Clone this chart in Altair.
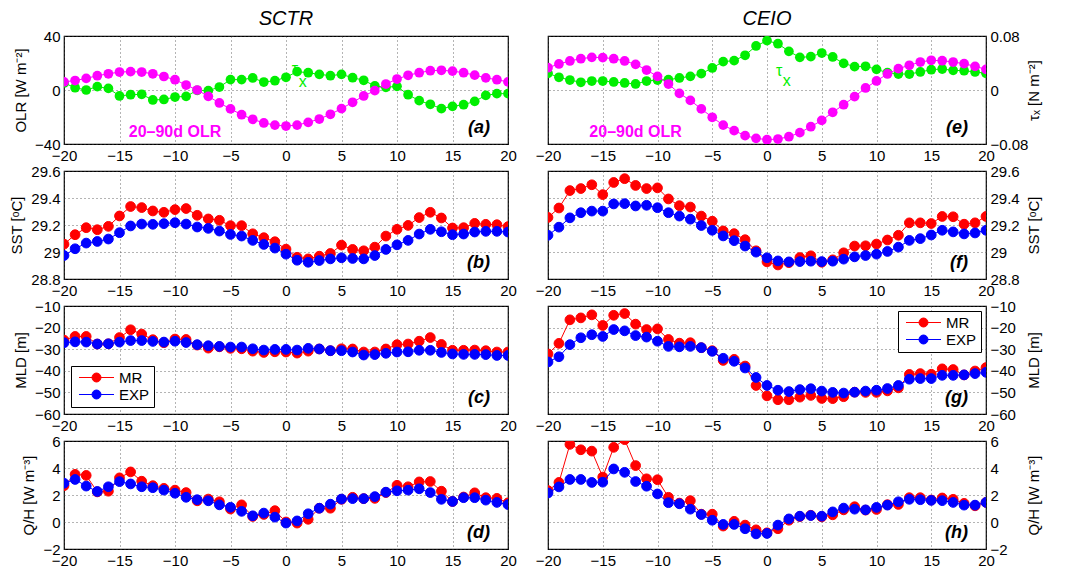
import altair as alt
import pandas as pd

days = list(range(-20, 21))

# ---- panel a / e : 20-90d OLR (W m-2) and zonal wind stress tau_x (N m-2)
olr_sctr = [6, 7, 8.6, 10.6, 12, 13.3, 13.6, 13.3, 12, 10,
            7.6, 3.7, 0, -4.7, -9.6, -14, -18.3, -21.7, -24.4, -26,
            -26.7, -26, -24, -21.5, -18, -13.8, -9.1, -4.4, -0.5, 4.4,
            8.1, 10.9, 12.8, 14.3, 14.6, 14, 12.8, 11, 9, 7.6, 6]
taux_sctr = [0.0104, 0.0034, 0.0, 0.005, 0.0024, -0.0088, -0.007, -0.0064, -0.0148, -0.014,
             -0.0104, -0.0094, -0.0004, -0.001, 0.0044, 0.0154, 0.0154, 0.0178, 0.0118, 0.0138,
             0.0188, 0.0272, 0.0256, 0.0232, 0.0212, 0.0232, 0.0182, 0.0144, 0.006, 0.004,
             0.0054, -0.007, -0.0158, -0.0212, -0.0276, -0.0242, -0.0218, -0.0168, -0.008, -0.0054, -0.0054]
olr_ceio = [16.5, 19.3, 21.5, 23.2, 24.2, 24, 23.2, 21.5, 19, 14.8,
            10.1, 4.4, -2.5, -7.7, -14, -20.2, -26, -30.1, -33.8, -35.8,
            -36.8, -36.3, -34.6, -31.6, -27.2, -22.5, -16.5, -10.9, -4.9, 1.5,
            6.7, 11.9, 15.8, 18.3, 20.7, 22, 21.7, 20.7, 19.5, 17.5, 15.3]
taux_ceio = [0.0247, 0.0188, 0.0148, 0.0114, 0.0133, 0.0133, 0.0119, 0.0104, 0.0089, 0.0133,
             0.0148, 0.0153, 0.0178, 0.0202, 0.0242, 0.0326, 0.0420, 0.0435, 0.0514, 0.0652,
             0.0731, 0.0686, 0.0573, 0.0484, 0.0494, 0.0548, 0.0489, 0.0395, 0.0346, 0.0351,
             0.0306, 0.0257, 0.0237, 0.0237, 0.0267, 0.0301, 0.0311, 0.0291, 0.0286, 0.0267, 0.0247]

# ---- SST (deg C)
sst_sctr_mr = [29.058, 29.128, 29.180, 29.165, 29.190, 29.267, 29.337, 29.329, 29.304, 29.294,
               29.314, 29.322, 29.272, 29.245, 29.235, 29.195, 29.195, 29.135, 29.106, 29.076,
               29.021, 28.961, 28.949, 28.969, 28.989, 29.051, 29.019, 29.009, 29.036, 29.118,
               29.168, 29.197, 29.255, 29.294, 29.252, 29.178, 29.180, 29.212, 29.205, 29.202, 29.188]
sst_sctr_exp = [28.974, 29.024, 29.066, 29.078, 29.096, 29.143, 29.193, 29.207, 29.205, 29.210,
                29.217, 29.207, 29.185, 29.175, 29.155, 29.130, 29.118, 29.086, 29.056, 29.029,
                28.984, 28.939, 28.924, 28.937, 28.949, 28.957, 28.952, 28.949, 28.974, 29.019,
                29.053, 29.086, 29.133, 29.168, 29.150, 29.128, 29.133, 29.148, 29.153, 29.153, 29.148]
sst_ceio_mr = [29.256, 29.326, 29.455, 29.470, 29.498, 29.425, 29.515, 29.543, 29.493, 29.470,
               29.475, 29.393, 29.343, 29.333, 29.266, 29.228, 29.156, 29.136, 29.091, 29.009,
               28.927, 28.904, 28.921, 28.959, 28.972, 28.924, 28.942, 28.994, 29.044, 29.046,
               29.059, 29.089, 29.124, 29.216, 29.216, 29.211, 29.263, 29.261, 29.206, 29.216, 29.263]
sst_ceio_exp = [29.124, 29.184, 29.253, 29.291, 29.303, 29.303, 29.356, 29.358, 29.341, 29.346,
                29.328, 29.291, 29.266, 29.243, 29.196, 29.161, 29.119, 29.084, 29.044, 28.999,
                28.957, 28.934, 28.927, 28.929, 28.932, 28.929, 28.932, 28.947, 28.964, 28.974,
                28.984, 29.004, 29.036, 29.086, 29.099, 29.126, 29.161, 29.149, 29.134, 29.141, 29.161]

# ---- MLD (m)
mld_sctr_mr = [-25.8, -24.1, -24.1, -27.6, -27.5, -24.6, -21.0, -23.0, -25.6, -27.0,
               -25.3, -25.5, -28.1, -29.5, -28.9, -29.6, -29.8, -30.9, -31.5, -31.2,
               -31.3, -31.8, -30.9, -29.9, -30.7, -29.8, -29.9, -31.3, -31.3, -29.9,
               -27.9, -27.6, -26.3, -24.6, -27.8, -30.5, -30.5, -30.4, -30.7, -31.3, -31.3]
mld_sctr_exp = [-27.0, -26.6, -26.7, -27.6, -27.5, -26.7, -26.0, -26.0, -26.4, -26.7,
                -26.3, -26.9, -27.9, -28.4, -28.7, -29.0, -29.0, -29.8, -30.4, -30.1,
                -30.1, -30.4, -29.6, -29.9, -30.7, -30.7, -31.3, -32.7, -32.5, -31.9,
                -31.3, -31.2, -30.5, -30.5, -31.5, -32.2, -32.4, -32.4, -32.5, -32.9, -32.9]
mld_ceio_mr = [-32.2, -27.3, -16.4, -15.5, -14.1, -19.0, -14.3, -13.5, -18.4, -20.9,
               -20.6, -25.5, -27.2, -27.0, -29.3, -30.7, -35.2, -34.7, -37.8, -46.8,
               -51.6, -53.4, -53.4, -52.2, -51.4, -52.8, -52.9, -52.0, -49.9, -50.0,
               -50.0, -49.3, -47.9, -41.7, -41.3, -41.6, -39.1, -39.4, -41.9, -40.1, -38.5]
mld_ceio_exp = [-35.9, -33.5, -27.9, -24.7, -23.3, -24.1, -20.9, -21.5, -23.7, -24.4,
                -26.3, -28.7, -28.9, -28.7, -29.3, -31.0, -34.2, -35.6, -38.7, -43.1,
                -46.8, -49.0, -49.6, -48.7, -48.3, -49.4, -50.0, -50.3, -49.9, -49.4,
                -49.0, -48.2, -46.8, -43.9, -43.6, -43.6, -42.1, -42.1, -41.9, -41.3, -40.7]

# ---- Q/H (W m-3)
qh_sctr_mr = [2.69, 3.53, 3.45, 2.23, 2.28, 3.27, 3.71, 3.02, 2.69, 2.49,
              2.36, 2.18, 1.57, 1.70, 1.50, 0.96, 1.27, 0.41, 0.56, 0.84,
              0.0, -0.08, 0.20, 1.02, 1.02, 1.68, 1.83, 1.73, 1.75, 2.18,
              2.72, 2.61, 2.97, 3.0, 2.28, 1.52, 1.85, 2.16, 1.80, 1.75, 1.42]
qh_sctr_exp = [2.87, 3.15, 2.66, 2.26, 2.61, 2.99, 2.82, 2.61, 2.54, 2.36,
               2.13, 1.83, 1.65, 1.57, 1.27, 1.09, 0.79, 0.46, 0.66, 0.36,
               -0.08, 0.08, 0.61, 1.02, 1.32, 1.70, 1.73, 1.73, 1.88, 2.21,
               2.31, 2.36, 2.46, 2.18, 1.68, 1.52, 1.80, 1.80, 1.62, 1.45, 1.29]
qh_ceio_mr = [2.33, 2.93, 5.75, 5.35, 5.25, 3.33, 5.53, 6.1, 4.18, 3.2,
              3.13, 1.83, 1.4, 1.58, 0.58, 0.58, -0.3, 0.05, -0.23, -0.58,
              -0.8, -0.5, 0.13, 0.4, 0.5, 0.38, 0.53, 0.9, 1.13, 0.88,
              0.93, 1.28, 1.3, 1.8, 1.8, 1.63, 1.78, 1.68, 1.38, 1.2, 1.45]
qh_ceio_exp = [2.15, 2.6, 3.15, 3.15, 2.93, 2.95, 3.93, 3.68, 3.0, 2.65,
               2.08, 1.43, 1.35, 0.95, 0.55, 0.13, -0.18, -0.18, -0.5, -0.88,
               -0.85, -0.23, 0.23, 0.43, 0.48, 0.43, 0.75, 1.03, 0.95, 0.9,
               1.08, 1.25, 1.5, 1.68, 1.65, 1.6, 1.58, 1.45, 1.25, 1.25, 1.45]

series_names = ["MR", "EXP"]
x_ticks = [-20, -15, -10, -5, 0, 5, 10, 15, 20]

FONT = "Liberation Sans"
W_L, W_R, H = 444, 438, 108
MAGENTA, GREEN, RED, BLUE = "#FF00FF", "#00EE00", "#FF0000", "#0000FF"
PT_SIZE = 95
LEG_SYMBOL = "M-3.5,0L3.5,0M0.9,0A0.9,0.9,0,1,1,-0.9,0A0.9,0.9,0,1,1,0.9,0Z"


def x_enc():
    return alt.X("day:Q", scale=alt.Scale(domain=[-20, 20], nice=False, zero=False),
                 axis=alt.Axis(values=x_ticks, format="d", title=None, grid=True))


def y_axis(side, title, ticks, fmt):
    kw = dict(orient=side, values=ticks, format=fmt, title=title, grid=True, titleAngle=270)
    if side == "right":
        kw.update(titleX=47, titleY=H / 2, titleAlign="center", titleBaseline="middle")
    return alt.Axis(**kw)


def tag_layer(tag, width):
    return alt.Chart(pd.DataFrame({"t": [tag]})).mark_text(
        font=FONT, fontSize=18, fontWeight="bold", fontStyle="italic",
        align="right", baseline="alphabetic", color="black"
    ).encode(text="t:N", x=alt.value(width - 18), y=alt.value(H - 11))


def top_panel(olr, taux, side, width, tag, title, olr_lbl_x, tau_xy):
    if side == "left":
        ydom, yticks, fmt, ytitle = [-40, 40], [-40, -20, 0, 20, 40], "d", "OLR [W m⁻²]"
        k_olr, k_tau = 1.0, 500.0
    else:
        ydom, yticks, fmt, ytitle = [-0.08, 0.08], [-0.08, -0.04, 0, 0.04, 0.08], ".2~f", "τₓ [N m⁻²]"
        k_olr, k_tau = 1 / 500.0, 1.0
    df = pd.DataFrame({"day": days, "olr": olr, "taux": taux})
    base = alt.Chart(df).transform_calculate(
        y_olr=f"datum.olr * {k_olr}", y_tau=f"datum.taux * {k_tau}")
    yscale = alt.Scale(domain=ydom, nice=False, zero=False)
    ax = y_axis(side, ytitle, yticks, fmt)
    layers = []
    for fld, col in (("y_tau", GREEN), ("y_olr", MAGENTA)):
        y = alt.Y(f"{fld}:Q", scale=yscale, axis=ax)
        layers.append(base.mark_line(color=col, strokeWidth=1, clip=True).encode(x=x_enc(), y=y))
        layers.append(base.mark_point(color=col, filled=True, opacity=1, size=PT_SIZE, clip=True)
                      .encode(x=x_enc(), y=y))
    lab = pd.DataFrame({"day": [olr_lbl_x], "v": [ydom[0] * 0.78], "t": ["20–90d OLR"]})
    layers.append(alt.Chart(lab).mark_text(font=FONT, fontSize=16, fontWeight="bold", color=MAGENTA)
                  .encode(x=alt.X("day:Q"), y=alt.Y("v:Q"), text="t:N"))
    tx, ty, sx, sy = tau_xy
    tau = pd.DataFrame({"day": [tx, sx], "v": [ty, sy], "t": ["τ", "x"]})
    layers.append(alt.Chart(tau).mark_text(font=FONT, fontSize=16, color=GREEN)
                  .encode(x=alt.X("day:Q"), y=alt.Y("v:Q"), text="t:N"))
    layers.append(tag_layer(tag, width))
    return alt.layer(*layers).properties(
        width=width, height=H,
        title=alt.TitleParams(title, fontSize=20, fontStyle="italic", fontWeight="normal",
                              font=FONT, color="black", offset=0, anchor="middle"))


def pair_panel(mr, exp, side, width, tag, ytitle, ydom, yticks, fmt, legend_orient=None, legend_offset=7):
    df = pd.DataFrame({"day": days * 2, "value": mr + exp,
                       "series": [series_names[0]] * len(days) + [series_names[1]] * len(days)})
    sc = alt.Scale(domain=series_names, range=[RED, BLUE])
    if legend_orient:
        leg = alt.Legend(orient=legend_orient, title=None, offset=legend_offset,
                         strokeColor="black", fillColor="white", padding=4,
                         symbolType=LEG_SYMBOL, symbolSize=100, symbolStrokeWidth=1,
                         symbolOffset=14, labelOffset=15, labelFont=FONT, labelFontSize=15,
                         labelColor="black", rowPadding=1, cornerRadius=0)
    else:
        leg = None
    yscale = alt.Scale(domain=ydom, nice=False, zero=False)
    ax = y_axis(side, ytitle, yticks, fmt)
    layers = []
    for s in series_names:
        b = alt.Chart(df).transform_filter(alt.datum.series == s)
        y = alt.Y("value:Q", scale=yscale, axis=ax)
        layers.append(b.mark_line(strokeWidth=1, clip=True).encode(
            x=x_enc(), y=y, stroke=alt.Stroke("series:N", scale=sc, legend=leg)))
        layers.append(b.mark_point(filled=True, opacity=1, size=PT_SIZE, strokeWidth=1, clip=True).encode(
            x=x_enc(), y=y,
            fill=alt.Fill("series:N", scale=sc, legend=leg),
            stroke=alt.Stroke("series:N", scale=sc, legend=leg)))
    layers.append(tag_layer(tag, width))
    return alt.layer(*layers).properties(width=width, height=H)


pa = top_panel(olr_sctr, taux_sctr, "left", W_L, "(a)", "SCTR", -10, (0.8, 15.6, 1.5, 6))
pe = top_panel(olr_ceio, taux_ceio, "right", W_R, "(e)", "CEIO", -12, (1.1, 0.028, 1.8, 0.013))

sst_ticks = [28.8, 29, 29.2, 29.4, 29.6]
pb = pair_panel(sst_sctr_mr, sst_sctr_exp, "left", W_L, "(b)", "SST [ᵒC]", [28.8, 29.6], sst_ticks, ".1~f")
pf = pair_panel(sst_ceio_mr, sst_ceio_exp, "right", W_R, "(f)", "SST [ᵒC]", [28.8, 29.6], sst_ticks, ".1~f")

mld_ticks = [-60, -50, -40, -30, -20, -10]
pc = pair_panel(mld_sctr_mr, mld_sctr_exp, "left", W_L, "(c)", "MLD [m]", [-60, -10], mld_ticks, "d",
                legend_orient="bottom-left", legend_offset=7)
pg = pair_panel(mld_ceio_mr, mld_ceio_exp, "right", W_R, "(g)", "MLD [m]", [-60, -10], mld_ticks, "d",
                legend_orient="top-right", legend_offset=5)

qh_ticks = [-2, 0, 2, 4, 6]
pd_ = pair_panel(qh_sctr_mr, qh_sctr_exp, "left", W_L, "(d)", "Q/H [W m⁻³]", [-2, 6], qh_ticks, "d")
ph = pair_panel(qh_ceio_mr, qh_ceio_exp, "right", W_R, "(h)", "Q/H [W m⁻³]", [-2, 6], qh_ticks, "d")

chart = alt.concat(pa, pe, pb, pf, pc, pg, pd_, ph, columns=2,
                   spacing=alt.RowColnumber(row=27, column=40), bounds="flush").resolve_scale(
    fill="independent", stroke="independent").resolve_legend(fill="independent", stroke="independent"
).properties(
    padding={"left": 1, "top": 0, "right": 5, "bottom": 0}, background="white"
).configure_view(stroke="black", strokeWidth=1.2).configure_axis(
    labelFont=FONT, labelFontSize=15, labelColor="black", labelPadding=4,
    titleFont=FONT, titleFontSize=15, titleFontWeight="normal", titleColor="black", titlePadding=6,
    ticks=False, domain=False, gridColor="#444444", gridDash=[1, 3], gridWidth=1, gridOpacity=0.8,
    labelFlush=False
)

chart.save("out.html", embed_options={"renderer": "svg", "actions": False})
